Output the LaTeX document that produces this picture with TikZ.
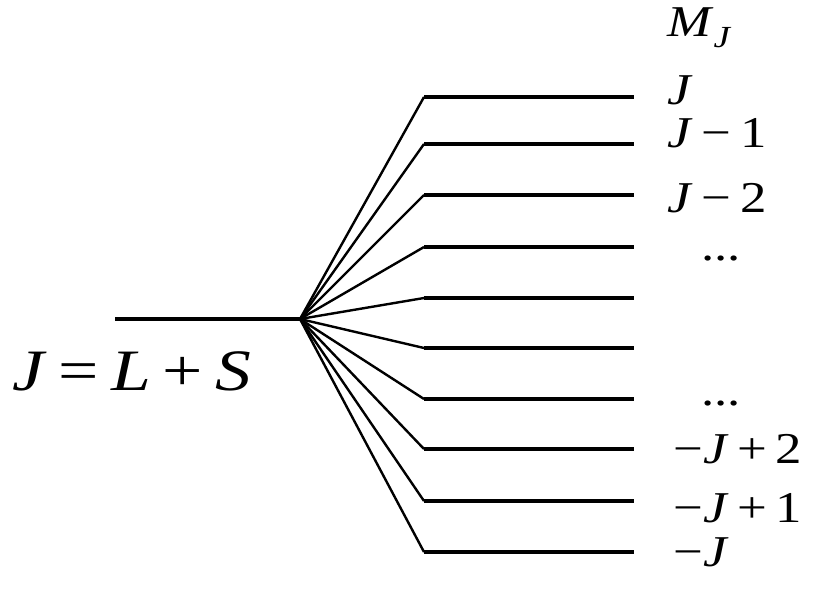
\documentclass[tikz,border=0pt]{standalone}
\usepackage{fontspec}
\usepackage{graphicx}
\setmainfont{Liberation Serif}
\newcommand{\wide}[2]{\scalebox{#1}[1]{#2}}
\begin{document}
\begin{tikzpicture}[x=0.75pt,y=-0.75pt,
  fanline/.style={line width=1.8pt},
  levelline/.style={line width=3.7pt},
  lbl/.style={anchor=base west,inner sep=0pt,font=\fontsize{33}{33}\selectfont},
  biglbl/.style={anchor=base west,inner sep=0pt,font=\fontsize{44}{44}\selectfont}]
\useasboundingbox (0,0) rectangle (816,606);
\coordinate (L) at (115,319);
\coordinate (O) at (300,319);
\draw[levelline] (L) -- (O);
\foreach \y [count=\i] in {97,144,195,247,298,348,399,449,501,552}{
  \coordinate (a\i) at (424,\y);
  \coordinate (b\i) at (634,\y);
  \draw[fanline] (O) -- (a\i);
  \draw[levelline] (a\i) -- (b\i);
}
\node[biglbl] (jls) at (12,390) {\wide{1.22}{\textit{J}\,=\,\textit{L}\,+\,\textit{S}}};
\node[lbl] (mj) at (667,37) {\wide{1.2}{\textit{M}\raisebox{-0.25em}{\fontsize{23}{23}\selectfont\textit{J}}}};
\node[lbl] (l1) at (667,105) {\wide{1.2}{\textit{J}}};
\node[lbl] (l2) at (667,147) {\wide{1.2}{\textit{J}\,−\,1}};
\node[lbl] (l3) at (667,212) {\wide{1.2}{\textit{J}\,−\,2}};
\node[lbl] (l4) at (701,260) {\wide{1.2}{...}};
\node[lbl] (l5) at (701,405) {\wide{1.2}{...}};
\node[lbl] (l6) at (673,463) {\wide{1.2}{−\textit{J}\,+\,2}};
\node[lbl] (l7) at (673,522) {\wide{1.2}{−\textit{J}\,+\,1}};
\node[lbl] (l8) at (673,566) {\wide{1.2}{−\textit{J}}};
\end{tikzpicture}
\end{document}
